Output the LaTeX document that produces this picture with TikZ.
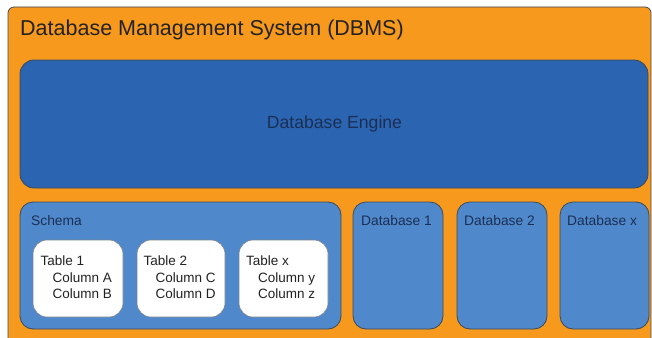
\documentclass[tikz,border=0pt]{standalone}
\usepackage{fontspec}
\setmainfont{Liberation Sans}
\definecolor{dbmsorange}{HTML}{F7991D}
\definecolor{engineblue}{HTML}{2B64B1}
\definecolor{lightblue}{HTML}{5089CB}
\definecolor{edgegrey}{HTML}{3C4A58}
\definecolor{navytext}{HTML}{1B2F55}
\definecolor{darktext}{HTML}{222222}
\begin{document}
\begin{tikzpicture}[x=1pt,y=-1pt,
  outerbox/.style={fill=dbmsorange,draw=edgegrey,line width=0.8pt,rounded corners=6pt},
  enginebox/.style={fill=engineblue,draw=edgegrey,line width=0.8pt,rounded corners=14pt},
  partbox/.style={fill=lightblue,draw=edgegrey,line width=0.8pt,rounded corners=13pt},
  tablebox/.style={fill=white,draw=edgegrey!70,line width=0.6pt,rounded corners=14pt},
  boxlabel/.style={anchor=base west,inner sep=0pt,text=navytext,font=\fontsize{13.8}{16}\selectfont},
  tablelabel/.style={anchor=base west,inner sep=0pt,text=darktext,font=\fontsize{13.5}{16}\selectfont},
]
\useasboundingbox (0,0) rectangle (652,337);
\begin{scope}
\clip (0,0) rectangle (652,337);
% outer DBMS frame
\draw[outerbox] (8,7) rectangle (651,350);
\end{scope}
\node[anchor=base west,inner sep=0pt,text=darktext,font=\fontsize{21.5}{24}\selectfont] (title) at (20,36) {Database Management System (DBMS)};

% engine
\draw[enginebox] (20,60) rectangle (648,188);
\node[anchor=base,inner sep=0pt,text=navytext,font=\fontsize{17.6}{20}\selectfont] (engine) at (334.5,128) {Database Engine};

% schema and databases
\draw[partbox] (20,202) rectangle (341,329);
\node[boxlabel] (schema) at (31,225) {Schema};
\draw[partbox] (353,202) rectangle (443,329);
\node[boxlabel] (db1) at (361,225) {Database 1};
\draw[partbox] (457,202) rectangle (547,329);
\node[boxlabel] (db2) at (464,225) {Database 2};
\draw[partbox] (560,202) rectangle (649,329);
\node[boxlabel] (dbx) at (567,225) {Database x};

% tables inside the schema
\draw[tablebox] (33,240) rectangle (123,317);
\node[tablelabel] (t1) at (40.5,265) {Table 1};
\node[tablelabel] (t1a) at (52.5,282) {Column A};
\node[tablelabel] (t1b) at (52.5,298) {Column B};

\draw[tablebox] (137,240) rectangle (225,317);
\node[tablelabel] (t2) at (143.5,265) {Table 2};
\node[tablelabel] (t2c) at (155.5,282) {Column C};
\node[tablelabel] (t2d) at (155.5,298) {Column D};

\draw[tablebox] (239,240) rectangle (328,317);
\node[tablelabel] (tx) at (246,265) {Table x};
\node[tablelabel] (txy) at (258,282) {Column y};
\node[tablelabel] (txz) at (258,298) {Column z};
\end{tikzpicture}
\end{document}
